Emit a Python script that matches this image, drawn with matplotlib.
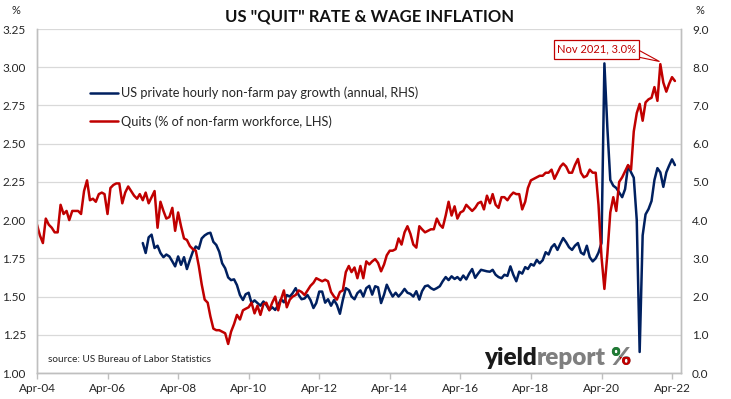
import matplotlib
matplotlib.use('Agg')
import matplotlib.pyplot as plt
import matplotlib.dates as mdates
import pandas as pd
import numpy as np
from matplotlib.patches import Polygon, Rectangle
from matplotlib.transforms import Bbox

# ---------------- data ----------------
quits_start = '2004-04-01'
quits = [
    1.97, 1.90, 1.85, 2.01, 1.97, 1.95, 1.92, 1.92, 2.10, 2.04,
    2.06, 2.00, 2.06, 2.06, 2.06, 2.04, 2.19, 2.26, 2.13, 2.14,
    2.12, 2.17, 2.18, 2.17, 2.04, 2.21, 2.23, 2.24, 2.24, 2.11,
    2.18, 2.22, 2.19, 2.16, 2.14, 2.17, 2.13, 2.18, 2.11, 2.15,
    2.19, 1.95, 2.12, 2.06, 2.01, 2.02, 2.08, 1.93, 2.05, 1.96,
    1.88, 1.87, 1.83, 1.81, 1.80, 1.70, 1.58, 1.48, 1.46, 1.37,
    1.29, 1.28, 1.28, 1.27, 1.26, 1.19, 1.27, 1.32, 1.38, 1.35,
    1.41, 1.42, 1.43, 1.46, 1.39, 1.44, 1.38, 1.45, 1.46, 1.41,
    1.46, 1.50, 1.41, 1.48, 1.54, 1.43, 1.48, 1.50, 1.51, 1.54,
    1.53, 1.51, 1.54, 1.57, 1.59, 1.62, 1.61, 1.60, 1.61, 1.60,
    1.53, 1.50, 1.48, 1.53, 1.54, 1.66, 1.70, 1.66, 1.69, 1.62,
    1.70, 1.62, 1.73, 1.71, 1.73, 1.745, 1.72, 1.665, 1.71, 1.77,
    1.80, 1.80, 1.81, 1.88, 1.84, 1.92, 1.96, 1.91, 1.84, 1.82,
    1.96, 1.94, 1.92, 1.93, 1.94, 1.94, 2.01, 1.97, 1.95, 2.03,
    2.12, 2.03, 2.09, 2.01, 2.05, 2.06, 2.10, 2.08, 2.06, 2.08,
    2.11, 2.12, 2.07, 2.16, 2.11, 2.17, 2.10, 2.08, 2.15, 2.15,
    2.13, 2.16, 2.18, 2.17, 2.17, 2.07, 2.12, 2.21, 2.26, 2.27,
    2.28, 2.29, 2.29, 2.31, 2.31, 2.33, 2.27, 2.31, 2.35, 2.37,
    2.35, 2.31, 2.31, 2.36, 2.40, 2.31, 2.28, 2.29, 2.33, 2.31,
    2.31, 2.10, 1.76, 1.55, 1.78, 2.05, 2.15, 2.06, 2.25, 2.28,
    2.32, 2.36, 2.33, 2.58, 2.70, 2.76, 2.65, 2.77, 2.79, 2.80,
    2.87, 2.78, 3.02, 2.90, 2.84, 2.89, 2.935, 2.91,
]

wage_start = '2007-04-01'
wage = [
    3.40, 3.14, 3.55, 3.62, 3.27, 3.33, 3.14, 3.03, 3.10, 3.05,
    2.92, 2.79, 3.05, 2.83, 3.03, 2.72, 2.96, 3.18, 3.31, 3.25,
    3.52, 3.60, 3.65, 3.67, 3.43, 3.35, 3.17, 2.87, 2.74, 2.50,
    2.43, 2.45, 2.30, 2.04, 1.91, 2.06, 2.10, 1.83, 1.90, 1.83,
    1.76, 1.87, 1.78, 1.65, 1.72, 1.65, 1.78, 1.93, 1.85, 2.04,
    2.00, 2.09, 2.22, 2.04, 1.93, 1.95, 2.04, 1.91, 1.70, 1.83,
    2.13, 2.13, 1.84, 1.93, 1.76, 1.91, 1.78, 1.55, 1.91, 2.22,
    2.17, 2.00, 1.93, 2.09, 2.16, 2.00, 2.22, 2.28, 2.05, 2.27,
    2.24, 1.83, 2.05, 2.31, 2.14, 2.00, 2.10, 2.00, 2.09, 2.20,
    2.10, 2.07, 2.00, 2.14, 1.92, 2.14, 2.27, 2.29, 2.22, 2.18,
    2.22, 2.27, 2.40, 2.51, 2.43, 2.53, 2.46, 2.51, 2.43, 2.55,
    2.45, 2.60, 2.72, 2.49, 2.60, 2.70, 2.68, 2.66, 2.65, 2.70,
    2.57, 2.51, 2.48, 2.57, 2.54, 2.79, 2.57, 2.40, 2.65, 2.60,
    2.77, 2.72, 2.85, 2.81, 2.96, 2.87, 2.95, 3.16, 3.10, 3.29,
    3.37, 3.22, 3.39, 3.53, 3.42, 3.29, 3.22, 3.33, 3.40, 3.15,
    3.10, 3.33, 3.03, 2.92, 3.00, 3.15, 3.40, 8.10, 6.40, 5.05,
    4.90, 4.84, 4.72, 4.60, 4.81, 5.42, 5.25, 5.11, 4.00, 0.55,
    3.60, 4.15, 4.29, 4.50, 5.05, 5.36, 5.25, 4.87, 5.25, 5.42, 5.59, 5.44,
]

left_ticks = [1.00, 1.25, 1.50, 1.75, 2.00, 2.25, 2.50, 2.75, 3.00, 3.25]
right_ticks = [0.0, 1.0, 2.0, 3.0, 4.0, 5.0, 6.0, 7.0, 8.0, 9.0]
x_tick_years = [2004, 2006, 2008, 2010, 2012, 2014, 2016, 2018, 2020, 2022]

title = 'US "QUIT" RATE & WAGE INFLATION'
wage_label = 'US private hourly non-farm pay growth (annual, RHS)'
quits_label = 'Quits (% of non-farm workforce, LHS)'
peak_label = 'Nov 2021, 3.0%'
source_text = 'source: US Bureau of Labor Statistics'

# ---------------- style ----------------
RED = '#C00000'
BLUE = '#002060'
GRID = '#D9D9D9'
SPINE = '#BFBFBF'
TXT = '#262626'

plt.rcParams['font.family'] = ['Lato', 'DejaVu Sans']

W, H = 731, 399
fig = plt.figure(figsize=(W / 100, H / 100), dpi=100)


def fx(px):
    return px / W


def fy(py):
    return 1 - py / H


ax = fig.add_axes([fx(37), fy(373), fx(681) - fx(37), fy(29) - fy(373)])
ax2 = ax.twinx()
ax.set_zorder(ax2.get_zorder() + 1)
ax.patch.set_visible(False)

quit_dates = pd.date_range(quits_start, periods=len(quits), freq='MS')
wage_dates = pd.date_range(wage_start, periods=len(wage), freq='MS')

l_wage, = ax2.plot(wage_dates, wage, color=BLUE, lw=1.8, solid_joinstyle='round',
                   solid_capstyle='round', label=wage_label)
l_quit, = ax.plot(quit_dates, quits, color=RED, lw=1.8, solid_joinstyle='round',
                  solid_capstyle='round', label=quits_label)

ax.set_ylim(1.0, 3.25)
ax2.set_ylim(0, 9)
ax.set_yticks(left_ticks)
ax2.set_yticks(right_ticks)
ax.yaxis.set_major_formatter(matplotlib.ticker.FormatStrFormatter('%.2f'))
ax2.yaxis.set_major_formatter(matplotlib.ticker.FormatStrFormatter('%.1f'))

ax2.grid(axis='y', color=GRID, lw=0.9)
ax2.set_axisbelow(True)
ax.grid(False)

xt = [pd.Timestamp(f'{y}-04-01') for y in x_tick_years]
ax.set_xticks(xt)
ax.xaxis.set_major_formatter(mdates.DateFormatter('%b-%y'))
ax.set_xlim(pd.Timestamp('2004-04-01'), pd.Timestamp('2022-07-03'))

for a in (ax, ax2):
    a.spines['top'].set_visible(False)
    for s in ('left', 'right', 'bottom'):
        a.spines[s].set_color(SPINE)
        a.spines[s].set_linewidth(1.0)

ax.tick_params(axis='x', direction='out', length=4, width=1, color=SPINE,
               labelsize=8.5, labelcolor=TXT, pad=3)
ax.tick_params(axis='y', length=0, labelsize=8.5, labelcolor=TXT, pad=8)
ax2.tick_params(axis='y', length=0, labelsize=8.5, labelcolor=TXT, pad=8)

# title and unit labels
fig.text(fx(370), fy(17), title, ha='center', va='center', fontsize=12,
         fontweight='bold', color='#111111')
fig.text(fx(16), fy(11), '%', ha='center', va='center', fontsize=8, color=TXT)
fig.text(fx(700), fy(11), '%', ha='center', va='center', fontsize=8, color=TXT)

# legend
ax.legend(handles=[l_wage, l_quit], loc='upper left',
          bbox_to_anchor=(fx(90), fy(86.5)), bbox_transform=fig.transFigure,
          frameon=False, fontsize=9.2, handlelength=2.2, handletextpad=0.25,
          labelspacing=1.25, borderpad=0, borderaxespad=0,
          labelcolor=TXT)

# source
fig.text(fx(48), fy(359), source_text, ha='left', va='center', fontsize=7.2,
         color=TXT)

# peak callout
box = Rectangle((fx(553.5), fy(58.7)), fx(639.3) - fx(553.5), fy(39.7) - fy(58.7),
                transform=fig.transFigure, facecolor='white', edgecolor=RED,
                lw=0.9, zorder=20)
fig.patches.append(box)
wedge = Polygon([(fx(639.3), fy(50.5)), (fx(659.5), fy(61.5)), (fx(639.3), fy(57.3))],
                closed=True, transform=fig.transFigure, facecolor='white',
                edgecolor=RED, lw=0.8, zorder=19)
fig.patches.append(wedge)
fig.text(fx(596.4), fy(49.2), peak_label, ha='center', va='center', fontsize=8,
         color=RED, zorder=21)

# yieldreport logo
t1 = fig.text(fx(484), fy(365), 'yield', ha='left', va='baseline', fontsize=17.5,
              fontweight='heavy', color='#1A1A1A', zorder=30)
t2 = ax.annotate('report', xy=(1, 0), xycoords=t1, ha='left', va='bottom',
                 fontsize=17.5, fontweight='heavy', color='#7F7F7F',
                 annotation_clip=False, zorder=30)
t3 = ax.annotate('%', xy=(1, 0), xycoords=t2, xytext=(3, 0),
                 textcoords='offset points', ha='left', va='bottom',
                 fontsize=17.5, fontweight='heavy', color='#7F7F7F',
                 annotation_clip=False, zorder=30)

fig.canvas.draw()
bb = t3.get_window_extent()
xm = (bb.x0 + bb.x1) / 2
ym = (bb.y0 + bb.y1) / 2 + 1
for col, clip in (('#1E7B34', Bbox([[bb.x0 - 2, ym], [xm, bb.y1 + 2]])),
                  (RED, Bbox([[xm, bb.y0 - 2], [bb.x1 + 2, ym]]))):
    t = ax.annotate('%', xy=(1, 0), xycoords=t2, xytext=(3, 0),
                    textcoords='offset points', ha='left', va='bottom',
                    fontsize=17.5, fontweight='heavy', color=col,
                    annotation_clip=False, zorder=31)
    t.set_clip_box(clip)
    t.set_clip_on(True)

fig.savefig('out.png', dpi=100)
